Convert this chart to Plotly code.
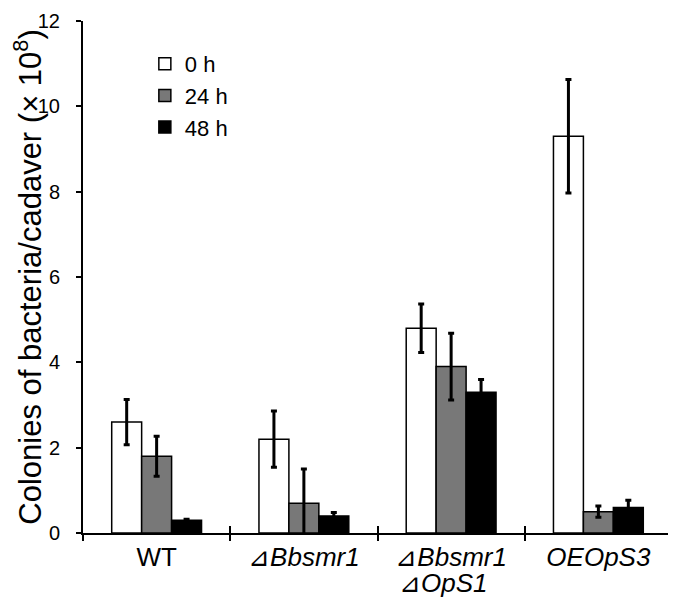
import plotly.graph_objects as go

categories = ["WT", "⊿Bbsmr1", "⊿Bbsmr1 ⊿OpS1", "OEOpS3"]
tick_labels = ["WT", "⊿<i>Bbsmr1</i>", "⊿<i>Bbsmr1</i>", "<i>OEOpS3</i>"]
second_line_labels = ["", "", "⊿<i>OpS1</i>", ""]
series_names = ["0 h", "24 h", "48 h"]
values_0h = [2.6, 2.2, 4.8, 9.3]
values_24h = [1.8, 0.7, 3.9, 0.5]
values_48h = [0.3, 0.4, 3.3, 0.6]
err_0h = [0.53, 0.66, 0.57, 1.33]
err_24h = [0.47, 0.8, 0.78, 0.13]
err_48h = [0.02, 0.08, 0.3, 0.17]
colors = ["#ffffff", "#787878", "#000000"]
y_ticks = [0, 2, 4, 6, 8, 10, 12]
boundaries = [-0.5, 0.5, 1.5, 2.5, 3.5]

FONT = "Arial, 'Liberation Sans', sans-serif"
fig = go.Figure()
for name, vals, errs, col in zip(series_names, [values_0h, values_24h, values_48h],
                                 [err_0h, err_24h, err_48h], colors):
    fig.add_trace(go.Bar(
        x=categories, y=vals, name=name,
        marker=dict(color=col, line=dict(color="black", width=1.5)),
        error_y=dict(type="data", array=errs, color="black", thickness=3, width=3),
    ))

# invisible helpers so the boundary-tick axes are drawn
for ax in ["x2", "x3"]:
    fig.add_trace(go.Scatter(x=boundaries, y=[0] * len(boundaries), xaxis=ax, yaxis="y",
                             mode="markers", marker=dict(opacity=0), showlegend=False,
                             hoverinfo="skip"))

for cat, txt in zip(categories, second_line_labels):
    if txt:
        fig.add_annotation(x=cat, y=0, xref="x", yref="y", text=txt, showarrow=False,
                           xanchor="left", yanchor="top", xshift=-54, yshift=-33,
                           font=dict(size=26))

fig.update_layout(
    width=668, height=591,
    paper_bgcolor="white", plot_bgcolor="white",
    barmode="group", bargap=0.39, bargroupgap=0,
    margin=dict(l=75, r=4, t=13, b=66, autoexpand=False),
    font=dict(family=FONT, size=20, color="black"),
    legend=dict(x=0.105, y=0.957, xanchor="left", yanchor="top",
                font=dict(size=22), bgcolor="rgba(0,0,0,0)",
                itemwidth=30, tracegroupgap=0),
    showlegend=True,
)
fig.update_xaxes(
    range=[-0.5, 3.5], showline=True, linecolor="black", linewidth=2,
    ticks="", showgrid=False, tickfont=dict(size=26), automargin=False,
    tickvals=categories, ticktext=tick_labels,
)
fig.update_yaxes(
    range=[0, 12], tickvals=y_ticks, showline=True, linecolor="black", linewidth=2,
    ticks="outside", ticklen=5, tickwidth=2, tickcolor="black", showgrid=False,
    zeroline=False, tickfont=dict(size=20), ticklabelstandoff=12, automargin=False,
    ticklabeloverflow="allow",
    title=dict(text="Colonies of bacteria/cadaver (× 10<sup>8</sup>)", font=dict(size=31), standoff=0),
)
# crossing x ticks at the group boundaries (below and above the axis line)
tick_axis = dict(overlaying="x", anchor="y", range=[-0.5, 3.5], tickvals=boundaries,
                 ticklen=7, tickwidth=2, tickcolor="black", showticklabels=False,
                 showgrid=False, zeroline=False, showline=False, side="bottom",
                 automargin=False)
fig.update_layout(xaxis2=dict(tick_axis, ticks="inside"),
                  xaxis3=dict(tick_axis, ticks="outside"))
fig.write_html("out.html")
